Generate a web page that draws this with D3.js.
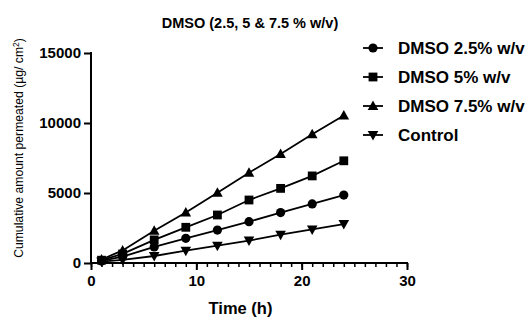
<!DOCTYPE html>
<html><head><meta charset="utf-8">
<script src="https://cdn.jsdelivr.net/npm/d3@7"></script>
<style>body{margin:0;background:#fff}svg{display:block;font-family:"Liberation Sans",Arial,sans-serif}</style>
</head><body><svg id="c" width="529" height="320"></svg>
<script>
const time = [1, 3, 6, 9, 12, 15, 18, 21, 24];
const dmso25 = [150, 450, 1150, 1760, 2350, 2950, 3600, 4220, 4850];
const dmso5 = [200, 650, 1650, 2550, 3430, 4500, 5330, 6220, 7300];
const dmso75 = [250, 900, 2300, 3600, 5020, 6450, 7790, 9190, 10530];
const control = [100, 230, 500, 880, 1240, 1600, 2020, 2400, 2780];
const seriesNames = ["DMSO 2.5% w/v", "DMSO 5% w/v", "DMSO 7.5% w/v", "Control"];
const xTicks = [0, 10, 20, 30];
const yTicks = [0, 5000, 10000, 15000];

const series = [
  {name: seriesNames[0], values: dmso25, sym: "circle"},
  {name: seriesNames[1], values: dmso5, sym: "square"},
  {name: seriesNames[2], values: dmso75, sym: "tri"},
  {name: seriesNames[3], values: control, sym: "down"}
];

const FONT = "'Liberation Sans', Arial, sans-serif";
const svg = d3.select("#c");
const x = d3.scaleLinear().domain([0, 30]).range([91, 407]);
const y = d3.scaleLinear().domain([0, 15000]).range([263, 53]);

function marker(g, sym, cx, cy) {
  if (sym === "circle") g.append("circle").attr("cx", cx).attr("cy", cy).attr("r", 4.6);
  else if (sym === "square") g.append("rect").attr("x", cx - 4.4).attr("y", cy - 4.4).attr("width", 8.8).attr("height", 8.8);
  else if (sym === "tri") g.append("path").attr("d", `M${cx},${cy-5.5}L${cx+5.3},${cy+4}L${cx-5.3},${cy+4}Z`);
  else g.append("path").attr("d", `M${cx},${cy+5.5}L${cx+5.3},${cy-4}L${cx-5.3},${cy-4}Z`);
}

// title
svg.append("text").attr("x", 250).attr("y", 27.5).attr("text-anchor", "middle")
  .style("font-size", "14.5px").style("font-weight", "bold").style("font-family", FONT).attr("fill", "#000")
  .text("DMSO (2.5, 5 & 7.5 % w/v)");

// x axis minor ticks
const xa = svg.append("g").attr("transform", "translate(0,263)");
xa.call(d3.axisBottom(x).tickValues(d3.range(0, 31, 1)).tickSize(4).tickFormat(""));
xa.select(".domain").remove();
xa.selectAll(".tick line").attr("stroke-width", 1.5);
xa.append("line").attr("x1", x(0) - 1).attr("x2", x(30) + 1).attr("stroke", "#000").attr("stroke-width", 2);
// x axis major ticks
const xa2 = svg.append("g").attr("transform", "translate(0,263)");
xa2.call(d3.axisBottom(x).tickValues(xTicks).tickSize(7).tickPadding(5).tickFormat(d3.format("d")));
xa2.select(".domain").remove();
xa2.selectAll(".tick line").attr("stroke-width", 2);
xa2.selectAll("text").style("font-size", "15px").style("font-weight", "bold").style("font-family", FONT).attr("fill", "#000");

// y axis
const ya = svg.append("g").attr("transform", "translate(91,0)");
ya.call(d3.axisLeft(y).tickValues(yTicks).tickSize(7).tickPadding(3).tickFormat(d3.format("d")));
ya.select(".domain").remove();
ya.append("line").attr("y1", y(15000) - 1).attr("y2", y(0) + 1).attr("stroke", "#000").attr("stroke-width", 2);
ya.selectAll(".tick line").attr("stroke-width", 2);
ya.selectAll("text").style("font-size", "15px").style("font-weight", "bold").style("font-family", FONT).attr("fill", "#000");

// axis titles
svg.append("text").attr("x", 240.5).attr("y", 314).attr("text-anchor", "middle")
  .style("font-size", "16.5px").style("font-weight", "bold").style("font-family", FONT).attr("fill", "#000").text("Time (h)");
const yt = svg.append("text").attr("transform", "translate(23,148) rotate(-90)").attr("text-anchor", "middle")
  .style("font-size", "12.2px").style("font-family", FONT).attr("fill", "#000");
yt.append("tspan").text("Cumulative amount permeated (µg/ cm");
yt.append("tspan").style("font-size", "8.5px").attr("dy", -4.5).text("2");
yt.append("tspan").attr("dy", 4.5).text(")");

// series
const line = d3.line().x((d, i) => x(time[i])).y(d => y(d));
series.forEach(s => {
  svg.append("path").attr("d", line(s.values)).attr("fill", "none").attr("stroke", "#000").attr("stroke-width", 1.8);
  const g = svg.append("g").attr("fill", "#000");
  s.values.forEach((v, i) => marker(g, s.sym, x(time[i]), y(v)));
});

// legend
const ly = [48, 77, 106, 135];
series.forEach((s, i) => {
  const g = svg.append("g").attr("fill", "#000");
  g.append("line").attr("x1", 363).attr("x2", 383).attr("y1", ly[i]).attr("y2", ly[i]).attr("stroke", "#000").attr("stroke-width", 1.8);
  marker(g, s.sym, 373, ly[i]);
  svg.append("text").attr("x", 398).attr("y", ly[i] + 6).style("font-size", "17px").style("font-weight", "bold")
    .style("font-family", FONT).attr("fill", "#000").text(s.name);
});
</script></body></html>
